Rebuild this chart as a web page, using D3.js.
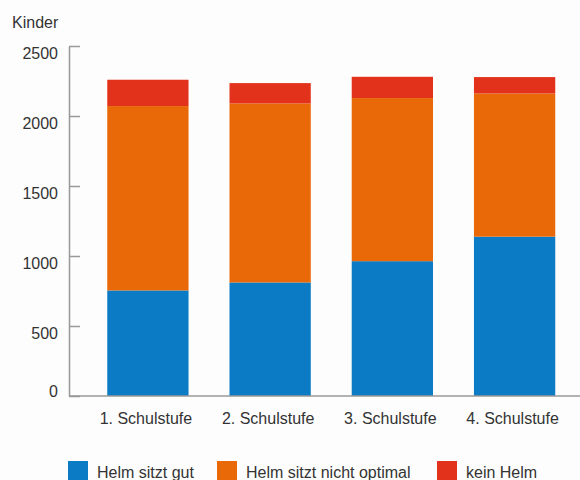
<!DOCTYPE html>
<html>
<head>
<meta charset="utf-8">
<script src="https://cdn.jsdelivr.net/npm/d3@7"></script>
<style>
  html, body { margin: 0; padding: 0; background: #fdfdfd; }
  svg { display: block; }
  text { font-family: "Liberation Sans", Arial, Helvetica, sans-serif; fill: #333; }
</style>
</head>
<body>
<svg id="chart" width="580" height="480"></svg>
<script>
const categories = ["1. Schulstufe", "2. Schulstufe", "3. Schulstufe", "4. Schulstufe"];
const seriesNames = ["Helm sitzt gut", "Helm sitzt nicht optimal", "kein Helm"];
const helmGut = [754, 811, 963, 1138];
const helmNichtOptimal = [1317, 1279, 1165, 1023];
const keinHelm = [188, 145, 152, 117];
const yTicks = [0, 500, 1000, 1500, 2000, 2500];
const colors = ["#0a7bc4", "#e96808", "#e3321b"];
const yLabel = "Kinder";

const svg = d3.select("#chart");
const axisX = 69, y0 = 396, yTop = 46;

const data = categories.map((c, i) => ({
  cat: c, gut: helmGut[i], nicht: helmNichtOptimal[i], kein: keinHelm[i]
}));
const keys = ["gut", "nicht", "kein"];
const stacked = d3.stack().keys(keys)(data);

const x = d3.scaleBand().domain(categories).range([axisX, 593.5])
  .paddingInner(0.335).paddingOuter(0.313);
const y = d3.scaleLinear().domain([0, 2500]).range([y0, yTop]);

// bars
svg.append("g").selectAll("g").data(stacked).join("g")
  .attr("fill", (d, i) => colors[i])
  .selectAll("rect").data(d => d).join("rect")
  .attr("x", d => x(d.data.cat))
  .attr("width", x.bandwidth())
  .attr("y", d => y(d[1]))
  .attr("height", d => y(d[0]) - y(d[1]));

// y axis
const yAxis = svg.append("g").attr("transform", `translate(${axisX},0)`)
  .call(d3.axisLeft(y).tickValues(yTicks).tickFormat(d3.format("d"))
    .tickSizeInner(-11).tickSizeOuter(0).tickPadding(11));
yAxis.select(".domain").attr("stroke", "#999").attr("stroke-width", 1.5);
yAxis.selectAll(".tick line").attr("stroke", "#999").attr("stroke-width", 1.5);
yAxis.selectAll(".tick text")
  .attr("font-size", 16)
  .attr("font-family", "\"Liberation Sans\", Arial, sans-serif")
  .attr("fill", "#333")
  .attr("dy", d => d === 0 ? "0.05em" : "0.75em");

// x axis
const xAxis = svg.append("g").attr("transform", `translate(0,${y0})`)
  .call(d3.axisBottom(x).tickSize(0).tickPadding(0));
xAxis.select(".domain").remove();
xAxis.append("line").attr("x1", axisX).attr("x2", 580).attr("y1", 0).attr("y2", 0)
  .attr("stroke", "#999").attr("stroke-width", 1.5);
xAxis.selectAll(".tick text")
  .attr("font-size", 16)
  .attr("font-family", "\"Liberation Sans\", Arial, sans-serif")
  .attr("fill", "#333")
  .attr("y", 28).attr("dy", 0).attr("dx", -2);

// y label
svg.append("text").attr("x", 12).attr("y", 28).attr("font-size", 16).text(yLabel);

// legend
const legendX = [68, 217, 437];
const lg = svg.append("g").selectAll("g").data(seriesNames).join("g")
  .attr("transform", (d, i) => `translate(${legendX[i]},461)`);
lg.append("rect").attr("width", 20).attr("height", 19).attr("fill", (d, i) => colors[i]);
lg.append("text").attr("x", 29).attr("y", 17).attr("font-size", 16).text(d => d);
</script>
</body>
</html>
